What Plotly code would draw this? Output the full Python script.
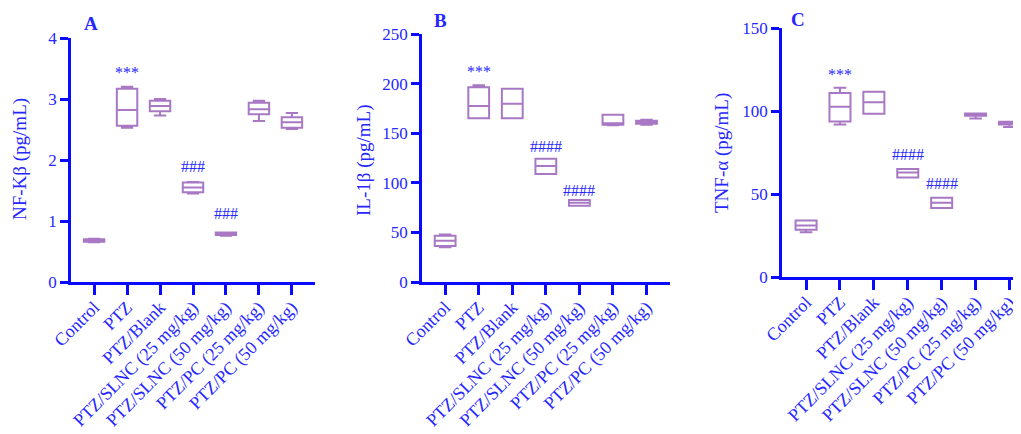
import plotly.graph_objects as go

categories = ["Control", "PTZ", "PTZ/Blank", "PTZ/SLNC (25 mg/kg)",
              "PTZ/SLNC (50 mg/kg)", "PTZ/PC (25 mg/kg)", "PTZ/PC (50 mg/kg)"]

# Panel A: NF-Kβ (pg/mL)
nfkb_lo  = [0.65, 2.53, 2.73, 1.45, 0.76, 2.64, 2.51]
nfkb_q1  = [0.66, 2.56, 2.80, 1.47, 0.77, 2.75, 2.53]
nfkb_med = [0.68, 2.82, 2.885, 1.55, 0.79, 2.83, 2.62]
nfkb_q3  = [0.70, 3.17, 2.97, 1.63, 0.81, 2.94, 2.70]
nfkb_hi  = [0.71, 3.20, 3.00, 1.64, 0.81, 2.97, 2.77]

# Panel B: IL-1β (pg/mL)
il1b_lo  = [35.0, 165.0, 165.0, 108.9, 76.9, 158.0, 158.5]
il1b_q1  = [36.3, 165.0, 165.0, 108.9, 76.9, 158.6, 159.5]
il1b_med = [41.6, 177.4, 179.8, 116.9, 79.8, 160.0, 161.0]
il1b_q3  = [46.7, 196.3, 194.9, 124.3, 82.7, 168.7, 162.5]
il1b_hi  = [48.0, 198.3, 194.9, 124.3, 82.7, 168.7, 163.5]

# Panel C: TNF-α (pg/mL)
tnfa_lo  = [27.0, 91.9, 98.3, 59.9, 41.5, 95.5, 90.3]
tnfa_q1  = [28.4, 93.7, 98.3, 59.9, 41.5, 97.1, 91.9]
tnfa_med = [31.0, 102.5, 105.2, 62.9, 44.7, 97.7, 92.7]
tnfa_q3  = [34.0, 110.9, 111.6, 65.1, 47.8, 98.5, 93.5]
tnfa_hi  = [34.0, 114.0, 111.6, 65.1, 47.8, 98.5, 93.5]

panel_letters = ["A", "B", "C"]
y_titles = ["NF-Kβ (pg/mL)", "IL-1β (pg/mL)", "TNF-α (pg/mL)"]
y_ranges = [[0, 4], [0, 250], [0, 150]]
y_dticks = [1, 50, 50]

# significance marks: (category index, y value, text)
sig_A = [(1, 3.43, "***"), (3, 1.89, "###"), (4, 1.13, "###")]
sig_B = [(1, 212, "***"), (3, 137, "####"), (4, 92.7, "####")]
sig_C = [(1, 122, "***"), (3, 73.5, "####"), (4, 56.5, "####")]

OFF = 8  # default page body margin
W, H = 1021 - OFF, 434 - OFF
BLUE_LINE = "#0a0aff"
BLUE_TEXT = "#2626ff"
BOX_COL = "#a878c4"
FONT = "Liberation Serif"

x_pos = list(range(len(categories)))


def fx(px):
    return (px - OFF) / W


def fy(py):
    return 1 - (py - OFF) / H


# pixel-based layout (screen pixels)
x_domains_px = [(71, 315), (422, 670), (782, 1021)]
y_domains_px = [(38, 282), (34, 282), (28, 277)]
x_ranges = [[-0.70, 6.70], [-0.69, 6.70], [-0.71, 6.34]]

data_sets = [
    (nfkb_lo, nfkb_q1, nfkb_med, nfkb_q3, nfkb_hi),
    (il1b_lo, il1b_q1, il1b_med, il1b_q3, il1b_hi),
    (tnfa_lo, tnfa_q1, tnfa_med, tnfa_q3, tnfa_hi),
]
sigs = [sig_A, sig_B, sig_C]

fig = go.Figure()
layout = dict(
    width=W, height=H,
    margin=dict(l=0, r=0, t=0, b=0, autoexpand=False),
    paper_bgcolor="white", plot_bgcolor="white",
    showlegend=False,
    font=dict(family=FONT, color=BLUE_TEXT),
)
annotations = []

for i, (lo, q1, med, q3, hi) in enumerate(data_sets):
    suffix = "" if i == 0 else str(i + 1)
    fig.add_trace(go.Box(
        x=x_pos, q1=q1, median=med, q3=q3, lowerfence=lo, upperfence=hi,
        width=0.62, whiskerwidth=0.6, boxpoints=False,
        line=dict(color=BOX_COL, width=2), fillcolor="rgba(0,0,0,0)",
        xaxis="x" + suffix, yaxis="y" + suffix, hoverinfo="skip",
    ))
    xd = x_domains_px[i]
    yd = y_domains_px[i]
    layout["xaxis" + suffix] = dict(
        domain=[fx(xd[0]), min(1.0, fx(xd[1]))], anchor="y" + suffix,
        range=x_ranges[i], tickvals=x_pos, ticktext=categories,
        tickangle=-45, ticks="outside", ticklen=10, tickwidth=2.5,
        tickcolor=BLUE_LINE, showline=True, linewidth=2.5, linecolor=BLUE_LINE,
        showgrid=False, zeroline=False, automargin=False,
        ticklabelstandoff=-5,
        tickfont=dict(family=FONT, size=18, color=BLUE_TEXT),
    )
    layout["yaxis" + suffix] = dict(
        domain=[fy(yd[1]), fy(yd[0])], anchor="x" + suffix,
        range=y_ranges[i], dtick=y_dticks[i], ticks="outside", ticklen=8,
        tickwidth=2.5, tickcolor=BLUE_LINE, showline=True, linewidth=2.5,
        linecolor=BLUE_LINE, showgrid=False, zeroline=False, automargin=False,
        tickfont=dict(family=FONT, size=17, color=BLUE_TEXT),
    )
    for (cx, cy, txt) in sigs[i]:
        annotations.append(dict(
            x=cx, y=cy, xref="x" + suffix, yref="y" + suffix, text=txt,
            showarrow=False, yanchor="middle", xanchor="center",
            font=dict(family=FONT, size=16, color=BLUE_TEXT),
        ))

title_pos_px = [(20, 159), (364, 160), (722, 153)]
letter_pos_px = [(91, 24), (440, 21), (798, 19)]
for i in range(3):
    tx, ty = title_pos_px[i]
    annotations.append(dict(
        x=fx(tx), y=fy(ty), xref="paper", yref="paper",
        text=y_titles[i], textangle=-90, showarrow=False,
        xanchor="center", yanchor="middle",
        font=dict(family=FONT, size=19, color=BLUE_TEXT),
    ))
    lx, ly = letter_pos_px[i]
    annotations.append(dict(
        x=fx(lx), y=fy(ly), xref="paper", yref="paper",
        text="<b>" + panel_letters[i] + "</b>", showarrow=False,
        xanchor="center", yanchor="middle",
        font=dict(family=FONT, size=19, color=BLUE_TEXT),
    ))

layout["annotations"] = annotations
fig.update_layout(**layout)
fig.write_html("out.html")
